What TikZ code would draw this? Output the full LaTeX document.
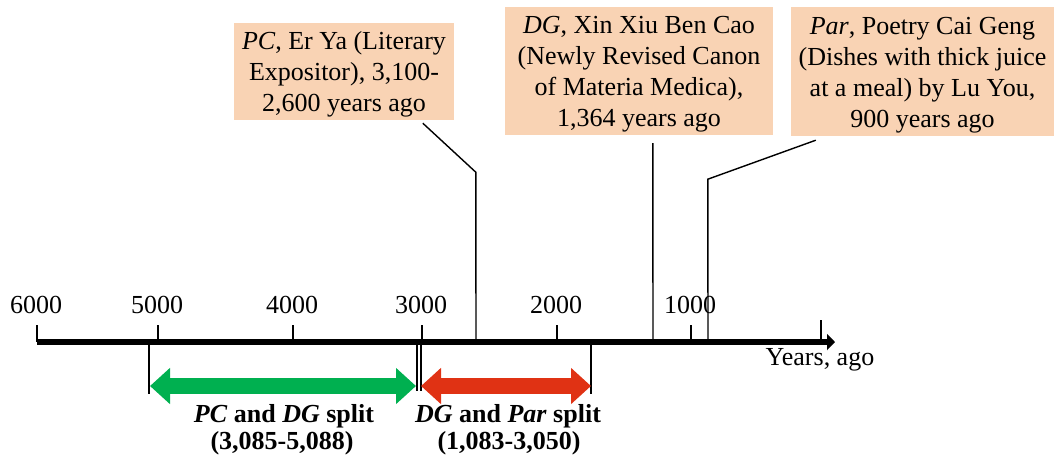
\documentclass[tikz,border=0pt]{standalone}
\usepackage{fontspec}
\setmainfont{Liberation Serif}
\usetikzlibrary{arrows.meta}
\definecolor{peach}{RGB}{249,211,180}
\definecolor{sgreen}{RGB}{0,176,80}
\definecolor{sred}{RGB}{224,50,20}
\newcommand{\topstrut}{\rule{0pt}{24pt}}
\begin{document}
\begin{tikzpicture}[x=1pt,y=-1pt,
  every node/.style={font=\fontsize{26}{31}\selectfont, inner sep=0pt},
  box/.style={fill=peach, align=center},
  conn/.style={line width=1.4pt, line join=miter},
  tickline/.style={line width=1.4pt},
  axisline/.style={line width=6pt, -{Triangle[length=8pt,width=16pt]}},
  splitarrow/.style={line width=16pt, {Triangle[length=20pt,width=35pt]}-{Triangle[length=20pt,width=35pt]}},
  ticklabel/.style={anchor=base},
  splitlabel/.style={anchor=base, font=\fontsize{26}{31}\selectfont\bfseries}
]
\useasboundingbox (0,0) rectangle (1054,459);

% boxes
\node[box, minimum width=220pt, minimum height=97pt] (b1) at (344,71.5)
  {\topstrut\textit{PC}, Er Ya (Literary\\Expositor), 3,100-\\2,600 years ago};
\node[box, minimum width=268pt, minimum height=128pt] (b2) at (639,71)
  {\topstrut\textit{DG}, Xin Xiu Ben Cao\\(Newly Revised Canon\\of Materia Medica),\\1,364 years ago};
\node[box, minimum width=263pt, minimum height=129pt] (b3) at (922.5,71.5)
  {\topstrut\textit{Par}, Poetry Cai Geng\\(Dishes with thick juice\\at a meal) by Lu You,\\900 years ago};

% axis coordinates
\coordinate (ax0) at (37,342);
\coordinate (ax1) at (835,342);
\coordinate (a1) at (476,342);
\coordinate (a2) at (653,342);
\coordinate (a3) at (708,342);

% ticks and labels
\foreach \x/\lab/\n in {37/6000/t6, 158/5000/t5, 293/4000/t4, 422/3000/t3, 557/2000/t2, 691/1000/t1}{
  \draw[tickline] (\x,325) -- (\x,342);
  \node[ticklabel] (\n) at (\x-1,313) {\lab};
}
\draw[tickline] (821,320) -- (821,342);

% axis
\draw[axisline] (ax0) -- (ax1);
\node[anchor=base] (yl) at (820,365) {Years, ago};

% connectors from boxes
\draw[conn] ([shift={(189,3)}]b1.south west) -- ++(53,49) -- (a1);
\draw[conn] ([shift={(148,8)}]b2.south west) -- (a2);
\draw[conn] ([shift={(25,4)}]b3.south west) -- ++(-108,39) -- (a3);

% drop lines
\coordinate (d1) at (149,342); \coordinate (d1b) at (149,394);
\coordinate (d2) at (417,342); \coordinate (d2b) at (417,391);
\coordinate (d3) at (421,342); \coordinate (d3b) at (421,391);
\coordinate (d4) at (591,342); \coordinate (d4b) at (591,394);
\draw[tickline] (d1) -- (d1b);
\draw[tickline] (d2) -- (d2b);
\draw[tickline] (d3) -- (d3b);
\draw[tickline] (d4) -- (d4b);

% split arrows
\coordinate (g1) at (150,386); \coordinate (g2) at (416,386);
\coordinate (r1) at (421,386); \coordinate (r2) at (591,386);
\draw[splitarrow, sgreen] (g1) -- (g2);
\draw[splitarrow, sred] (r1) -- (r2);

% split labels
\node[splitlabel] (l1) at (284,422) {\textit{PC} and \textit{DG} split};
\node[splitlabel] (l1b) at (282,449) {(3,085-5,088)};
\node[splitlabel] (l2) at (508,422) {\textit{DG} and \textit{Par} split};
\node[splitlabel] (l2b) at (509,449) {(1,083-3,050)};
\end{tikzpicture}
\end{document}
